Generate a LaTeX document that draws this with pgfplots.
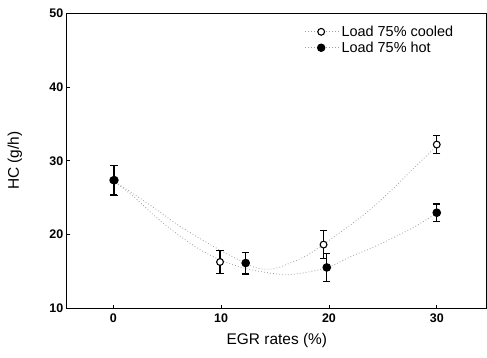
\documentclass[border=0pt]{standalone}
\usepackage{fontspec}
\setmainfont{Liberation Sans}
\usepackage{pgfplots}
\pgfplotsset{compat=1.18}
\newcommand{\lab}{\fontsize{15.5}{15.5}\selectfont}
\begin{document}
\begin{tikzpicture}
\useasboundingbox (0,0) rectangle (487bp,358bp);
\begin{axis}[
  at={(66.7bp,49.7bp)}, anchor=south west,
  scale only axis, width=420.3bp, height=295bp,
  xmin=-4.32, xmax=34.66, ymin=10, ymax=50,
  xtick={0,10,20,30}, ytick={10,20,30,40,50},
  tick pos=left, tick align=inside, major tick length=3bp,
  axis line style={line width=1.1pt},
  every tick/.style={black, line width=0.8pt},
  /pgf/number format/assume math mode=true,
  tick label style={font=\bfseries\fontsize{12.5}{12.5}\selectfont},
  xticklabel style={yshift=-2bp},
  xlabel={\lab EGR rates (\%)}, ylabel={\lab HC (g/h)},
  xlabel style={at={(axis description cs:0.5,-0.108)}, anchor=center},
  ylabel style={at={(axis description cs:-0.123,0.5)}, anchor=center},
  legend style={draw=none, fill=none, at={(0.566,0.965)}, anchor=north west,
    font=\fontsize{14.5}{14.5}\selectfont, row sep=0pt, inner sep=0pt},
  legend cell align=left,
  legend image code/.code={\draw[mark repeat=2,mark phase=2,#1] plot coordinates {(0bp,0bp) (16bp,0bp) (34bp,0bp)};},
  fit/.style={gray!75, line width=0.8pt, dash pattern=on 0.8pt off 2.2pt},
  err/.style={only marks, black, line width=1pt,
    error bars/y dir=both, error bars/y explicit,
    error bars/error bar style={line width=1.2pt},
    error bars/error mark options={rotate=90, mark size=3.6bp, line width=1.2pt}},
]
% fitted trend curves
\addplot[fit, smooth, forget plot] coordinates {
 (0,27.3) (2,25.4) (4,23.4) (6,21.3) (8,19.5) (10,17.8) (12,16.3) (13,15.6)
 (14,15.3) (15,15.4) (16,15.9) (18,17.2) (20,19.2) (22,21.3) (24,23.6)
 (26,26.3) (28,29.2) (30,32.0)};
\addplot[fit, smooth, forget plot] coordinates {
 (0,27.3) (2,25.0) (4,22.3) (6,20.0) (8,18.0) (10,16.5) (12,15.5) (14,14.9)
 (16,14.55) (18,14.9) (20,15.6) (22,17.0) (24,18.2) (26,19.6) (28,21.1) (30,22.9)};
% Load 75% cooled
\addplot[err, mark=*, mark size=3.4bp, mark options={fill=white, draw=black, line width=1.1pt}, forget plot]
 coordinates {
 (0,27.37) +- (0,2.0)
 (9.9,16.28) +- (0,1.55)
 (19.5,18.64) +- (0,1.9)
 (30.0,32.2) +- (0,1.2)};
% Load 75% hot
\addplot[err, mark=*, mark size=3.8bp, mark options={fill=black, draw=black}, forget plot]
 coordinates {
 (0.1,27.37) +- (0,2.04)
 (12.28,16.14) +- (0,1.48)
 (19.8,15.54) +- (0,1.9)
 (30.0,22.96) +- (0,1.19)};
\addlegendimage{gray!75, line width=0.8pt, dash pattern=on 0.8pt off 2.2pt, mark=*, mark size=3.4bp, mark options={fill=white, draw=black, solid, line width=1.1pt}}
\addlegendentry{Load 75\% cooled}
\addlegendimage{gray!75, line width=0.8pt, dash pattern=on 0.8pt off 2.2pt, mark=*, mark size=3.8bp, mark options={fill=black, draw=black, solid}}
\addlegendentry{Load 75\% hot}
\end{axis}
\end{tikzpicture}
\end{document}
